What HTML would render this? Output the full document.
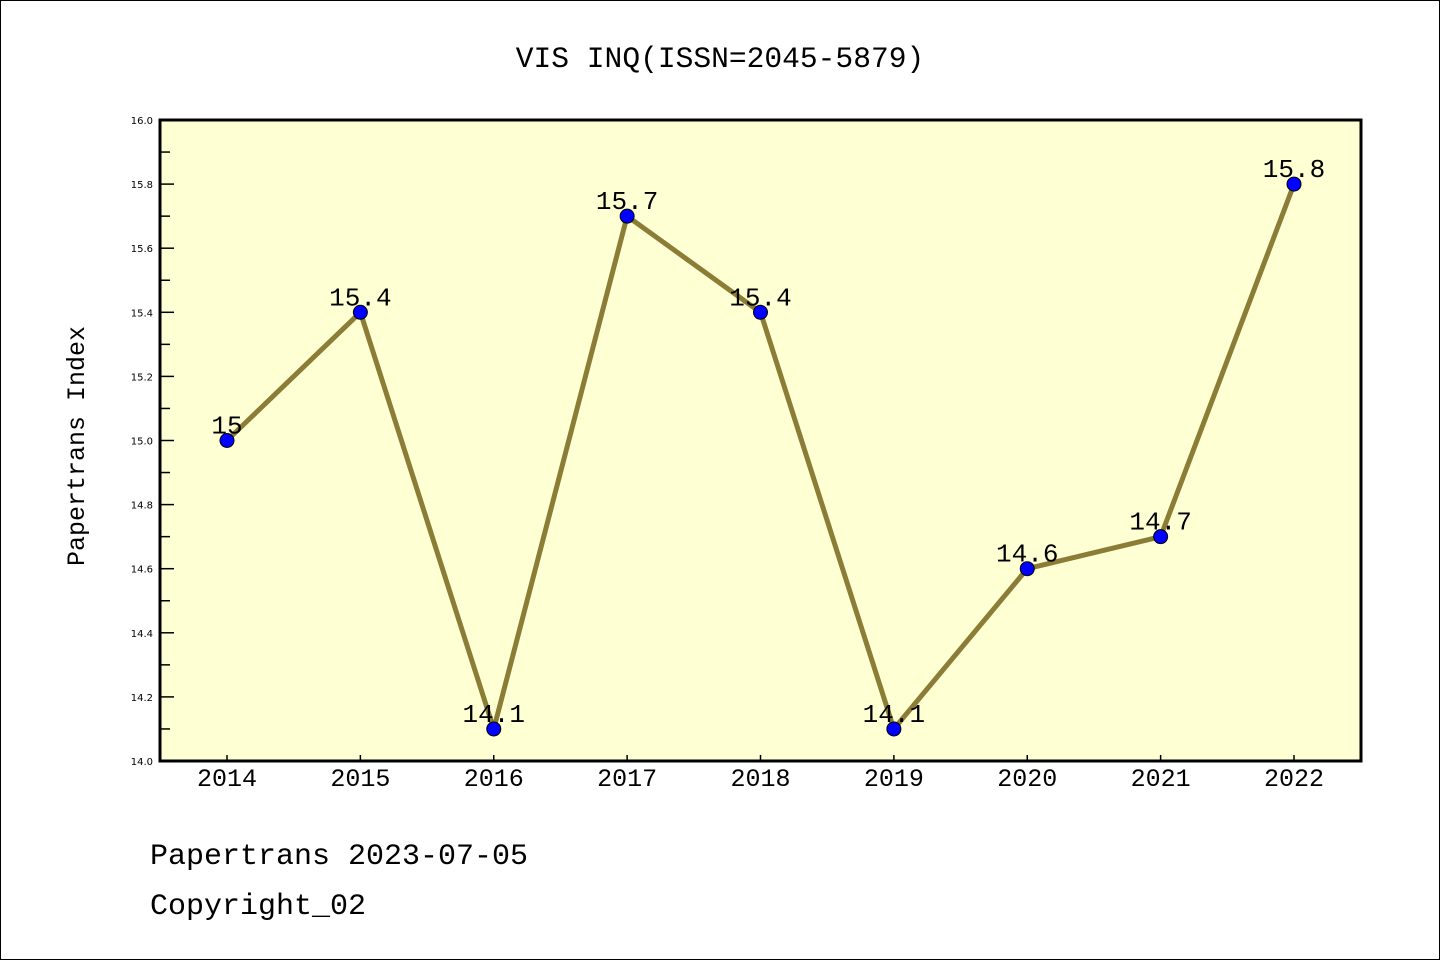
<!DOCTYPE html>
<html><head><meta charset="utf-8"><style>
body{margin:0;background:#fff}
svg{display:block}
text{font-family:"Liberation Mono","WenQuanYi Zen Hei",monospace;fill:#000}
text.yt{font-family:"DejaVu Sans",sans-serif}
</style></head><body>
<svg id="chart" width="1440" height="960" xmlns="http://www.w3.org/2000/svg">
<rect x="0.5" y="0.5" width="1439" height="959" fill="#fff" stroke="#000" stroke-width="1"/>
<text x="720" y="67" font-size="29.6" text-anchor="middle">VIS INQ(ISSN=2045-5879)</text>
<rect x="160" y="120" width="1201" height="641" fill="#ffffd4"/>
<g id="yticks"></g><g id="xticks"></g>
<g id="series"></g>
<rect x="160" y="120" width="1201" height="641" fill="none" stroke="#000" stroke-width="3"/>
<text transform="translate(84,446) rotate(-90)" font-size="25" text-anchor="middle">Papertrans Index</text>
<text x="150" y="864" font-size="30">Papertrans 2023-07-05</text>
<text x="150" y="914" font-size="30">Copyright_02</text>
</svg>
<script>
const years=['2014','2015','2016','2017','2018','2019','2020','2021','2022'];
const values=[15.0,15.4,14.1,15.7,15.4,14.1,14.6,14.7,15.8];
const valueLabels=['15','15.4','14.1','15.7','15.4','14.1','14.6','14.7','15.8'];
const yTicks=['14.0','14.2','14.4','14.6','14.8','15.0','15.2','15.4','15.6','15.8','16.0'];
const NS='http://www.w3.org/2000/svg';
const yMin=14,yMax=16,plotTop=120,plotBot=761;
function ys(v){return plotBot-(v-yMin)/(yMax-yMin)*(plotBot-plotTop);}
function xs(i){return 227+i*(1294-227)/(years.length-1);}
function mk(tag,attrs,parent){const e=document.createElementNS(NS,tag);for(const k in attrs)e.setAttribute(k,attrs[k]);parent.appendChild(e);return e;}
const yg=document.getElementById('yticks'),xg=document.getElementById('xticks'),sg=document.getElementById('series');
yTicks.forEach(t=>{const v=parseFloat(t),y=ys(v);
 const l=mk('line',{x1:160,x2:174,y1:y,y2:y,stroke:'#000','stroke-width':1.5},yg);
 
 
 const tx=mk('text',{x:153,y:y+4,'font-size':10,'text-anchor':'end','class':'yt'},yg);tx.textContent=t;
 
 
 if(v<yMax){const ym=ys(v+0.1);const m=mk('line',{x1:160,x2:170,y1:ym,y2:ym,stroke:'#000','stroke-width':1.5},yg);
 
 }
});
years.forEach((yr,i)=>{const x=xs(i);
 const l=mk('line',{x1:x,x2:x,y1:plotBot,y2:plotBot-6,stroke:'#000','stroke-width':1.5},xg);
 
 
 const t=mk('text',{x:x,y:plotBot+25,'font-size':25,'text-anchor':'middle'},xg);t.textContent=yr;
 
 
});
const pl=mk('polyline',{points:values.map((v,i)=>xs(i)+','+ys(v)).join(' '),fill:'none',stroke:'#8b7d35','stroke-width':5,'stroke-linejoin':'round'},sg);


values.forEach((v,i)=>{
 const c=mk('circle',{cx:xs(i),cy:ys(v),r:7,fill:'#0000ff',stroke:'#000','stroke-width':1},sg);
 
 
 const t=mk('text',{x:xs(i),y:ys(v)-7,'font-size':26,'text-anchor':'middle'},sg);t.textContent=valueLabels[i];
 
 
});
</script>
</body></html>
